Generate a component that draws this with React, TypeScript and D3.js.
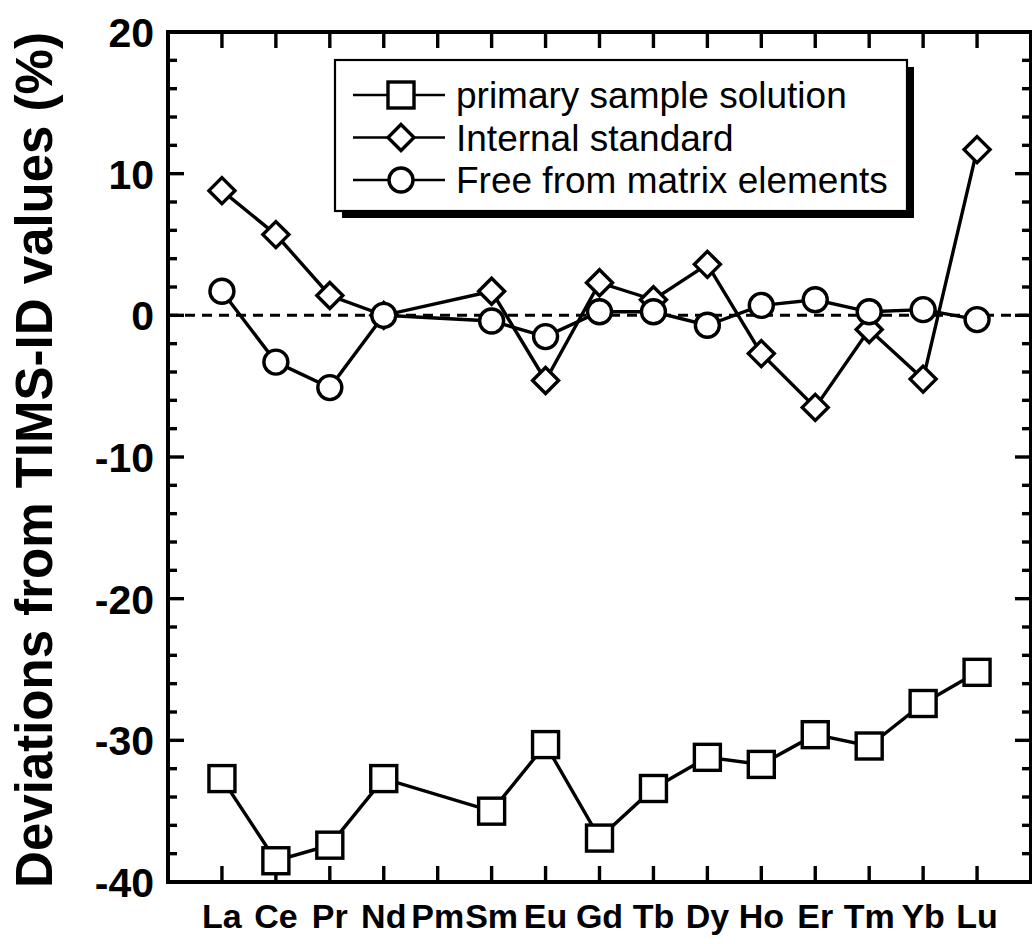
import React from "react";
import * as d3 from "d3";

const categories = ["La", "Ce", "Pr", "Nd", "Pm", "Sm", "Eu", "Gd", "Tb", "Dy", "Ho", "Er", "Tm", "Yb", "Lu"];
const primarySample: (number | null)[] = [-32.7, -38.5, -37.4, -32.7, null, -35.0, -30.3, -36.9, -33.4, -31.2, -31.7, -29.6, -30.4, -27.4, -25.2];
const internalStandard: (number | null)[] = [8.8, 5.7, 1.4, 0.0, null, 1.7, -4.6, 2.3, 1.1, 3.6, -2.7, -6.5, -1.0, -4.5, 11.7];
const matrixFree: (number | null)[] = [1.7, -3.3, -5.1, 0.0, null, -0.4, -1.5, 0.25, 0.25, -0.7, 0.7, 1.1, 0.25, 0.4, -0.3];
const yMajorTicks = [20, 10, 0, -10, -20, -30, -40];
const legendLabels = ["primary sample solution", "Internal standard", "Free from matrix elements"];

const W = 1032, H = 944;
const L = 168, R = 1031, T = 32, B = 882;
const FONT = "'Liberation Sans', Arial, Helvetica, sans-serif";

const x = d3.scalePoint<string>().domain(categories).range([L, R]).padding(1);
const y = d3.scaleLinear().domain([-40, 20]).range([B, T]);

type Shape = "square" | "diamond" | "circle";

function Marker({ shape, cx, cy }: { shape: Shape; cx: number; cy: number }) {
  const common = { fill: "#fff", stroke: "#000", strokeWidth: 3.4 };
  if (shape === "square") return <rect x={cx - 13} y={cy - 13} width={26} height={26} {...common} />;
  if (shape === "diamond")
    return <path d={`M${cx},${cy - 13}L${cx + 13},${cy}L${cx},${cy + 13}L${cx - 13},${cy}Z`} {...common} strokeLinejoin="miter" />;
  return <circle cx={cx} cy={cy} r={12} {...common} />;
}

function Series({ values, shape }: { values: (number | null)[]; shape: Shape }) {
  const pts = categories
    .map((c, i) => ({ c, v: values[i] }))
    .filter((d) => d.v !== null) as { c: string; v: number }[];
  const line = d3
    .line<{ c: string; v: number }>()
    .x((d) => x(d.c) as number)
    .y((d) => y(d.v));
  return (
    <g>
      <path d={line(pts) || ""} fill="none" stroke="#000" strokeWidth={3.4} />
      {pts.map((d) => (
        <Marker key={d.c} shape={shape} cx={x(d.c) as number} cy={y(d.v)} />
      ))}
    </g>
  );
}

export default function App() {
  const minorTicks = d3.range(-40, 20.001, 2).filter((v) => v % 10 !== 0);
  const shapes: Shape[] = ["square", "diamond", "circle"];
  const legendRows = [95, 137.5, 180];
  const lb = { x0: 335, y0: 60, x1: 907, y1: 211, s: 7 };
  return (
    <svg width={W} height={H} style={{ position: "absolute", left: 0, top: 0, background: "#fff" }}>
      <rect x={0} y={0} width={W} height={H} fill="#fff" />
      {/* y axis title */}
      <text
        transform={`translate(52,${(T + B) / 2 + 3}) rotate(-90)`}
        textAnchor="middle"
        fontFamily={FONT}
        fontWeight="bold"
        fontSize={51}
      >
        Deviations from TIMS-ID values (%)
      </text>
      {/* y tick labels */}
      {yMajorTicks.map((v) => (
        <text key={v} x={154} y={y(v) + 15} textAnchor="end" fontFamily={FONT} fontWeight="bold" fontSize={41}>
          {v}
        </text>
      ))}
      {/* x labels */}
      {categories.map((c) => (
        <text key={c} x={x(c) as number} y={928} textAnchor="middle" fontFamily={FONT} fontWeight="bold" fontSize={34}>
          {c}
        </text>
      ))}
      {/* zero dashed line */}
      <line x1={L} x2={R} y1={y(0)} y2={y(0)} stroke="#000" strokeWidth={3} strokeDasharray="10,7" />
      {/* ticks */}
      <g stroke="#000" strokeWidth={3.4}>
        {yMajorTicks.map((v) => (
          <g key={"M" + v}>
            <line x1={L} x2={L + 16} y1={y(v)} y2={y(v)} />
            <line x1={R} x2={R - 16} y1={y(v)} y2={y(v)} />
          </g>
        ))}
        {minorTicks.map((v) => (
          <g key={"m" + v}>
            <line x1={L} x2={L + 9} y1={y(v)} y2={y(v)} />
            <line x1={R} x2={R - 9} y1={y(v)} y2={y(v)} />
          </g>
        ))}
        {categories.map((c) => (
          <g key={"t" + c}>
            <line x1={x(c) as number} x2={x(c) as number} y1={T} y2={T + 16} />
            <line x1={x(c) as number} x2={x(c) as number} y1={B} y2={B - 16} />
          </g>
        ))}
      </g>
      {/* frame */}
      <rect x={L} y={T} width={R - L} height={B - T} fill="none" stroke="#000" strokeWidth={4} />
      {/* legend */}
      <path
        d={`M${lb.x1},${lb.y0 + lb.s}L${lb.x1 + lb.s},${lb.y0 + lb.s}L${lb.x1 + lb.s},${lb.y1 + lb.s}L${lb.x0 + lb.s},${lb.y1 + lb.s}L${lb.x0 + lb.s},${lb.y1}L${lb.x1},${lb.y1}Z`}
        fill="#000"
      />
      <rect x={lb.x0} y={lb.y0} width={lb.x1 - lb.x0} height={lb.y1 - lb.y0} fill="#fff" stroke="#000" strokeWidth={2.2} />
      {legendLabels.map((label, i) => (
        <g key={label}>
          <line x1={353} x2={445} y1={legendRows[i]} y2={legendRows[i]} stroke="#000" strokeWidth={2.5} />
          <Marker shape={shapes[i]} cx={401} cy={legendRows[i]} />
          <text x={456} y={legendRows[i] + 13} fontFamily={FONT} fontSize={37}>
            {label}
          </text>
        </g>
      ))}
      {/* data */}
      <Series values={primarySample} shape="square" />
      <Series values={internalStandard} shape="diamond" />
      <Series values={matrixFree} shape="circle" />
    </svg>
  );
}
